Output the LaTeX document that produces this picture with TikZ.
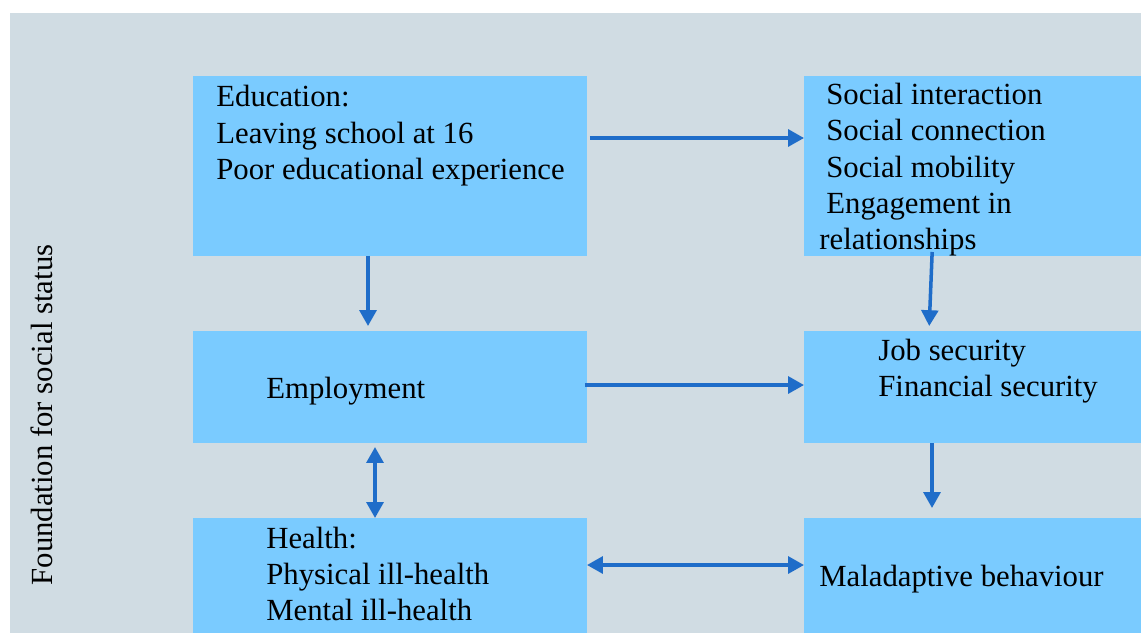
\documentclass[tikz,border=0pt]{standalone}
\usepackage{fontspec}
\setmainfont{Liberation Serif}
\usetikzlibrary{arrows.meta}
\definecolor{bgcol}{HTML}{D0DCE3}
\definecolor{boxcol}{HTML}{7ACBFF}
\definecolor{arrcol}{HTML}{1F6DC9}
\tikzset{
  box/.style={fill=boxcol, inner sep=0pt, outer sep=0pt},
  txt/.style={anchor=base west, inner sep=0pt, font=\fontsize{17.5}{20}\selectfont},
  arr/.style={draw=arrcol, line width=2pt, -{Triangle[length=9pt,width=9.5pt]}},
  biarr/.style={arr, {Triangle[length=9pt,width=9.5pt]}-{Triangle[length=9pt,width=9.5pt]}}
}
\begin{document}
\begin{tikzpicture}[x=0.02cm, y=-0.02cm]
  % page and background
  \useasboundingbox (0,0) rectangle (1141,633);
  \fill[bgcol] (10,13) rectangle (1141,633);
  % boxes
  \node[box, minimum width=7.88cm, minimum height=3.6cm]  (edu) at (390,166)   {};
  \node[box, minimum width=6.74cm, minimum height=3.6cm]  (soc) at (972.5,166) {};
  \node[box, minimum width=7.88cm, minimum height=2.24cm] (emp) at (390,387)   {};
  \node[box, minimum width=6.74cm, minimum height=2.24cm] (job) at (972.5,387) {};
  \node[box, minimum width=7.88cm, minimum height=2.3cm]  (hea) at (390,575.5) {};
  \node[box, minimum width=6.74cm, minimum height=2.3cm]  (mal) at (972.5,575.5) {};
  % box texts: x / baseline / text
  \foreach \x/\y/\t [count=\i] in {
      216/106/Education:, 216/143/Leaving school at 16, 216/179/Poor educational experience,
      826/104/Social interaction, 826/140/Social connection, 826/177/Social mobility,
      826/213/Engagement in, 819/249/relationships,
      266/398/Employment,
      878/360/Job security, 878/396/Financial security,
      266/548/Health:, 266/584/Physical ill-health, 266/620/Mental ill-health,
      819/586/Maladaptive behaviour}
  {
    \node[txt] (t_\i) at (\x,\y) {\t};
  }
  % side label
  \node[rotate=90, anchor=base, inner sep=0pt, font=\fontsize{17.5}{20}\selectfont]
    (side) at (52,415) {Foundation for social status};
  % arrows
  \draw[arr, shorten <=0.06cm] (edu.east |- 0,138) -- (soc.west |- 0,138);
  \draw[arr, shorten >=0.1cm] (edu.south -| 368,0) -- (emp.north -| 368,0);
  \draw[arr, shorten <=-0.08cm, shorten >=0.1cm] (soc.south -| 932,0) -- (job.north -| 929,0);
  \draw[arr, shorten <=-0.04cm] (emp.east |- 0,385) -- (job.west |- 0,385);
  \draw[biarr, shorten <=0.08cm] (emp.south -| 375,0) -- (hea.north -| 375,0);
  \draw[arr, shorten >=0.2cm] (job.south -| 932,0) -- (mal.north -| 932,0);
  \draw[biarr] (hea.east |- 0,565) -- (mal.west |- 0,565);
\end{tikzpicture}
\end{document}
